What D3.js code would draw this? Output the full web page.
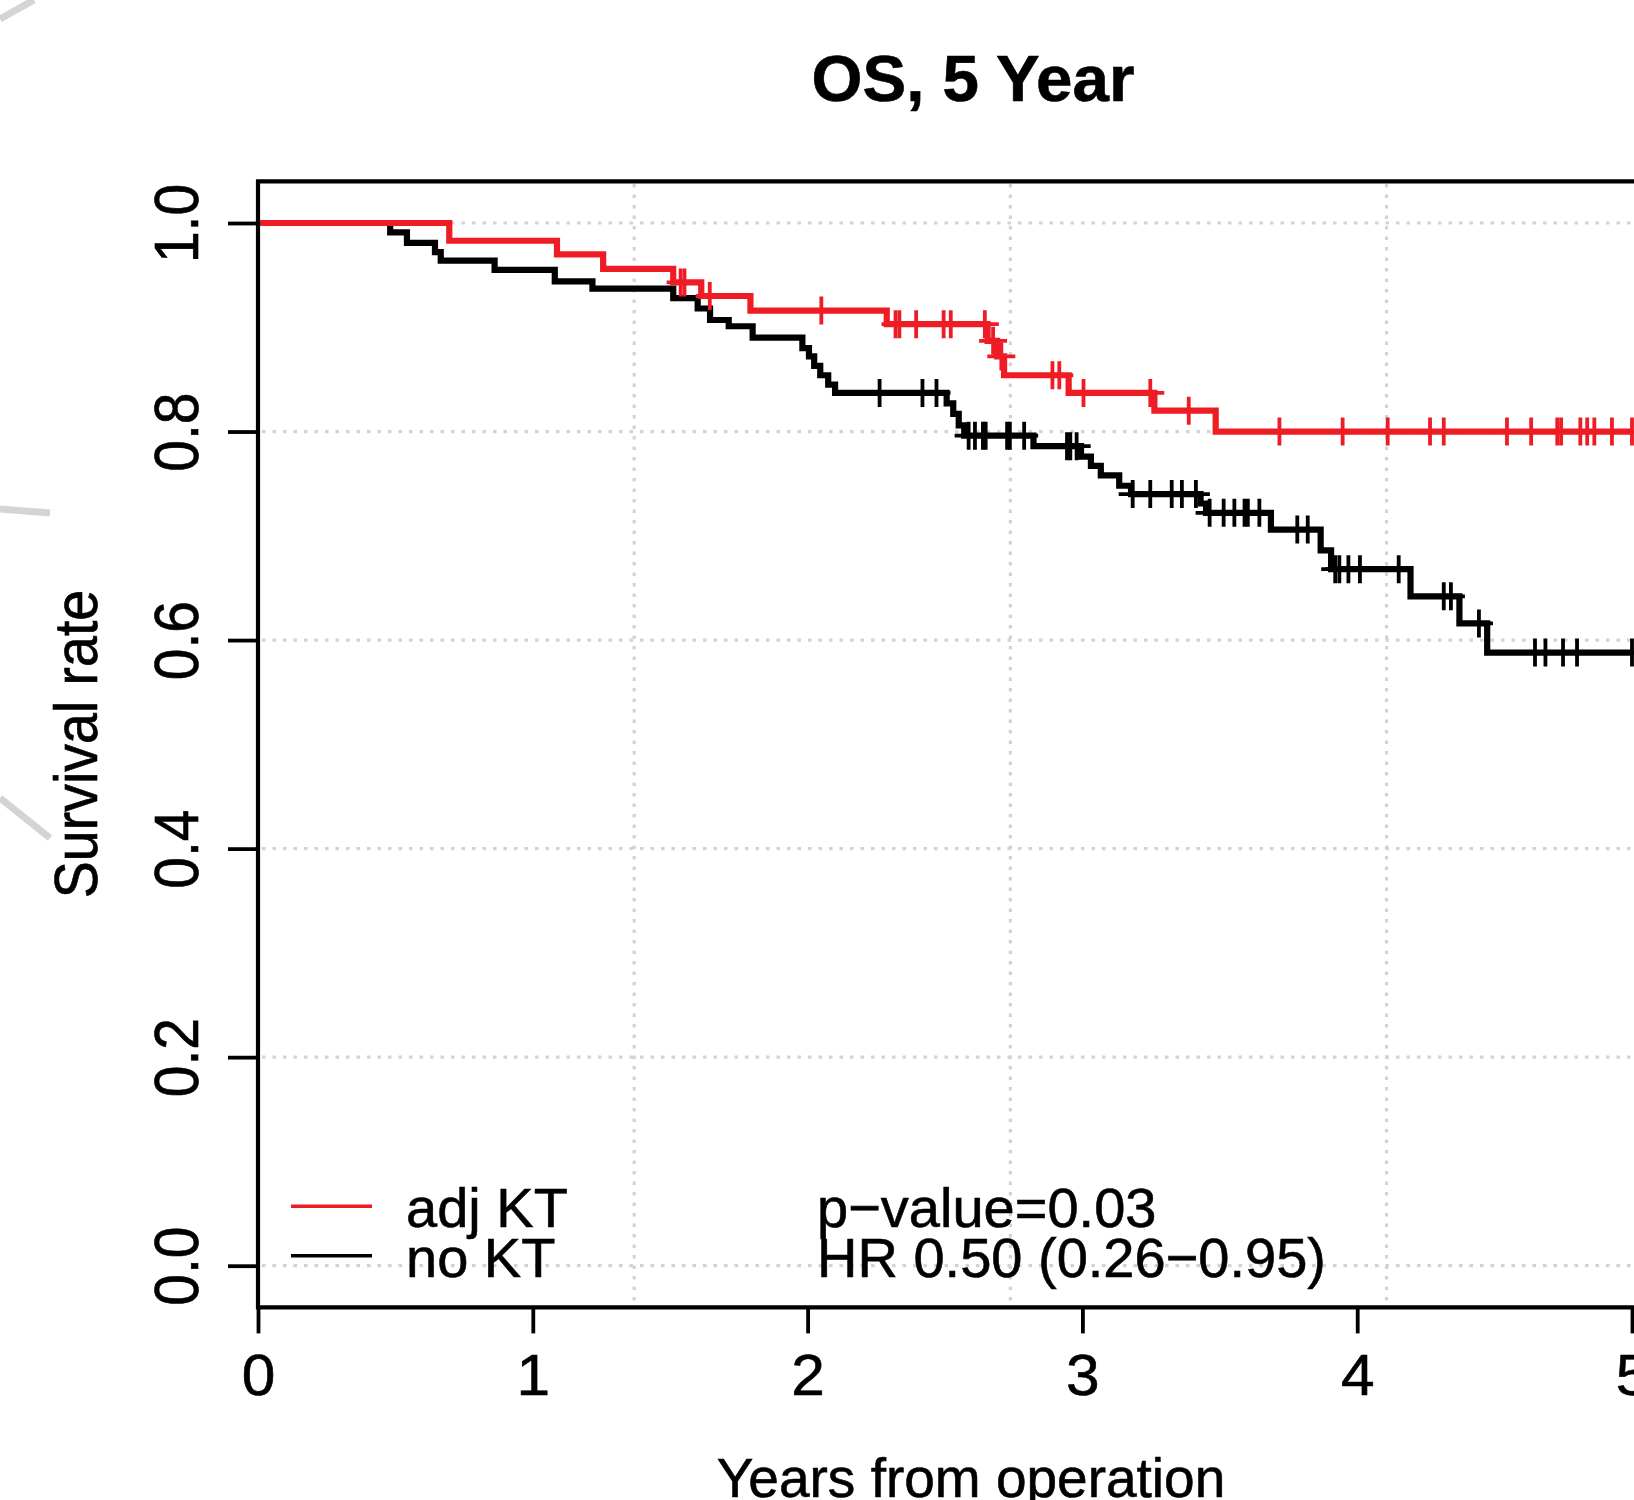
<!DOCTYPE html>
<html>
<head>
<meta charset="utf-8">
<script src="https://cdn.jsdelivr.net/npm/d3@7"></script>
<style>
  body { margin: 0; background: #fff; }
  text { font-family: 'Liberation Sans', Arial, sans-serif; fill: #000; stroke: #000; stroke-width: 0.6px; }
</style>
</head>
<body>
<div id="vis"></div>
<script>
// axis ticks
var yearTicks = [0, 1, 2, 3, 4, 5];
var survTicks = [0, 0.2, 0.4, 0.6, 0.8, 1.0];
var gridDays = [500, 1000, 1500];

// adj KT: step times (years) and survival after each step
var adjTimes = [0.696, 1.088, 1.256, 1.511, 1.613, 1.792, 2.288, 2.655, 2.690, 2.715, 2.950, 3.262, 3.485];
var adjSurv = [0.983, 0.970, 0.956, 0.943, 0.930, 0.916, 0.903, 0.887, 0.872, 0.854, 0.837, 0.820, 0.800];
var adjCensor = [1.538, 1.552, 1.644, 2.050, 2.320, 2.334, 2.395, 2.495, 2.521, 2.645, 2.675, 2.705, 2.891, 2.916,
  3.004, 3.247, 3.387, 3.717, 3.947, 4.111, 4.265, 4.315, 4.545, 4.633, 4.728, 4.742, 4.812, 4.837, 4.863, 4.927, 5.0];

// no KT
var noTimes = [0.481, 0.542, 0.644, 0.665, 0.861, 1.080, 1.217, 1.511, 1.600, 1.645, 1.713, 1.800, 1.981, 2.005,
  2.024, 2.046, 2.075, 2.100, 2.506, 2.530, 2.550, 2.570, 2.822, 2.995, 3.031, 3.067, 3.134, 3.177, 3.430, 3.450,
  3.686, 3.867, 3.905, 4.194, 4.372, 4.473];
var noSurv = [0.991, 0.981, 0.972, 0.964, 0.955, 0.944, 0.937, 0.928, 0.918, 0.907, 0.901, 0.890, 0.880, 0.872,
  0.863, 0.854, 0.845, 0.837, 0.827, 0.817, 0.806, 0.796, 0.786, 0.776, 0.767, 0.758, 0.748, 0.740, 0.731, 0.722,
  0.706, 0.686, 0.668, 0.642, 0.616, 0.588];
var noCensor = [2.262, 2.418, 2.469, 2.586, 2.609, 2.638, 2.648, 2.726, 2.736, 2.788, 2.944, 2.956, 2.979, 3.183,
  3.247, 3.325, 3.362, 3.413, 3.463, 3.514, 3.553, 3.590, 3.602, 3.644, 3.782, 3.820, 3.920, 3.935, 3.968, 4.010,
  4.151, 4.315, 4.341, 4.443, 4.647, 4.685, 4.749, 4.800, 5.0];

var legendLabels = ['adj KT', 'no KT'];
var statLabels = ['p\u2212value=0.03', 'HR 0.50 (0.26\u22120.95)'];

var width = 1634;
var height = 1500;
var red = '#ee1c25';
var endYear = 5;

var svg = d3.select('#vis').append('svg').attr('width', width).attr('height', height);

var x = d3.scaleLinear().domain([0, 5]).range([258, 1632]);
var y = d3.scaleLinear().domain([-0.04, 1.04]).range([1307.4, 181.3]);

// faint strokes from the scanned background
var bgStrokes = [[[0, 19], [34, 0]], [[0, 509], [50, 513]], [[0, 798], [50, 838]]];
svg.selectAll('.bg')
  .data(bgStrokes)
  .enter()
  .append('line')
  .attr('x1', (d) => d[0][0]).attr('y1', (d) => d[0][1])
  .attr('x2', (d) => d[1][0]).attr('y2', (d) => d[1][1])
  .attr('stroke', '#d4d4d6')
  .attr('stroke-width', 7);

// grid
var grid = svg.append('g');
grid.selectAll('.hgrid')
  .data(survTicks)
  .enter()
  .append('line')
  .attr('x1', 262).attr('x2', width)
  .attr('y1', (d) => y(d)).attr('y2', (d) => y(d))
  .attr('stroke', '#d3d3d3')
  .attr('stroke-width', 3.2)
  .attr('stroke-dasharray', '3.5 7');

grid.selectAll('.vgrid')
  .data(gridDays)
  .enter()
  .append('line')
  .attr('x1', (d) => x(d / 365.25)).attr('x2', (d) => x(d / 365.25))
  .attr('y1', 184).attr('y2', 1305)
  .attr('stroke', '#d3d3d3')
  .attr('stroke-width', 3.2)
  .attr('stroke-dasharray', '3.5 7');

function survAt(times, surv, t) {
  var i = d3.bisectRight(times, t);
  return i === 0 ? 1 : surv[i - 1];
}

var step = d3.line()
  .x((d) => x(d[0]))
  .y((d) => y(d[1]))
  .curve(d3.curveStepAfter);

function drawCurve(times, surv, censor, color) {
  var pts = [[0, 1]].concat(times.map((t, i) => [t, surv[i]]));
  pts.push([endYear, surv[surv.length - 1]]);

  svg.append('path')
    .attr('d', step(pts))
    .attr('fill', 'none')
    .attr('stroke', color)
    .attr('stroke-width', 6.2);

  // censor marks as "+"
  svg.append('g')
    .selectAll('path')
    .data(censor)
    .enter()
    .append('path')
    .attr('d', function (t) {
      var cx = x(t);
      var cy = y(survAt(times, surv, t));
      return 'M' + (cx - 14) + ',' + cy + 'H' + (cx + 14) + 'M' + cx + ',' + (cy - 14) + 'V' + (cy + 14);
    })
    .attr('stroke', color)
    .attr('stroke-width', 3.8)
    .attr('fill', 'none');
}

drawCurve(noTimes, noSurv, noCensor, '#000');
drawCurve(adjTimes, adjSurv, adjCensor, red);

// box (right side falls outside the picture)
svg.append('path')
  .attr('d', 'M' + (width + 10) + ',181.3H258V1307.4H' + (width + 10))
  .attr('fill', 'none')
  .attr('stroke', '#000')
  .attr('stroke-width', 4.2);

// x axis
var xAxis = svg.append('g')
  .attr('transform', 'translate(0,1307.4)')
  .call(d3.axisBottom(x).tickValues(yearTicks).tickSize(26).tickFormat(d3.format('d')));
xAxis.select('.domain').remove();
xAxis.selectAll('line').attr('stroke', '#000').attr('stroke-width', 3.8);
xAxis.selectAll('text')
  .attr('y', null)
  .attr('dy', null)
  .attr('transform', 'translate(0,88) scale(1.06,1)')
  .attr('font-size', 57)
  .attr('font-family', null)
  .attr('fill', '#000');

// y axis
var yAxis = svg.append('g')
  .attr('transform', 'translate(258,0)')
  .call(d3.axisLeft(y).tickValues(survTicks).tickSize(30).tickFormat(d3.format('.1f')));
yAxis.select('.domain').remove();
yAxis.selectAll('line').attr('stroke', '#000').attr('stroke-width', 3.8);
yAxis.selectAll('text')
  .attr('x', null)
  .attr('dy', null)
  .attr('text-anchor', 'middle')
  .attr('transform', 'translate(-60,0) scale(1.09,1) rotate(-90)')
  .attr('font-size', 57)
  .attr('font-family', null)
  .attr('fill', '#000');

// titles
svg.append('text')
  .attr('x', 973)
  .attr('y', 101)
  .attr('text-anchor', 'middle')
  .attr('font-size', 65.5)
  .attr('font-weight', 'bold')
  .text('OS, 5 Year');

svg.append('text')
  .attr('x', 971)
  .attr('y', 1496.5)
  .attr('text-anchor', 'middle')
  .attr('font-size', 55)
  .text('Years from operation');

svg.append('text')
  .attr('transform', 'translate(97,744) scale(1.09,1) rotate(-90)')
  .attr('text-anchor', 'middle')
  .attr('font-size', 55.5)
  .text('Survival rate');

// legend
var legendColors = [red, '#000'];
var legendY = [1227.3, 1276.7];
var legend = svg.append('g');
legend.selectAll('line')
  .data(legendLabels)
  .enter()
  .append('line')
  .attr('x1', 291).attr('x2', 372)
  .attr('y1', (d, i) => legendY[i] - 21).attr('y2', (d, i) => legendY[i] - 21)
  .attr('stroke', (d, i) => legendColors[i])
  .attr('stroke-width', 3.5);
legend.selectAll('.lab')
  .data(legendLabels)
  .enter()
  .append('text')
  .attr('x', 406)
  .attr('y', (d, i) => legendY[i])
  .attr('font-size', 56)
  .text((d) => d);
legend.selectAll('.stat')
  .data(statLabels)
  .enter()
  .append('text')
  .attr('x', 817)
  .attr('y', (d, i) => legendY[i])
  .attr('font-size', 56)
  .text((d) => d);
</script>
</body>
</html>
